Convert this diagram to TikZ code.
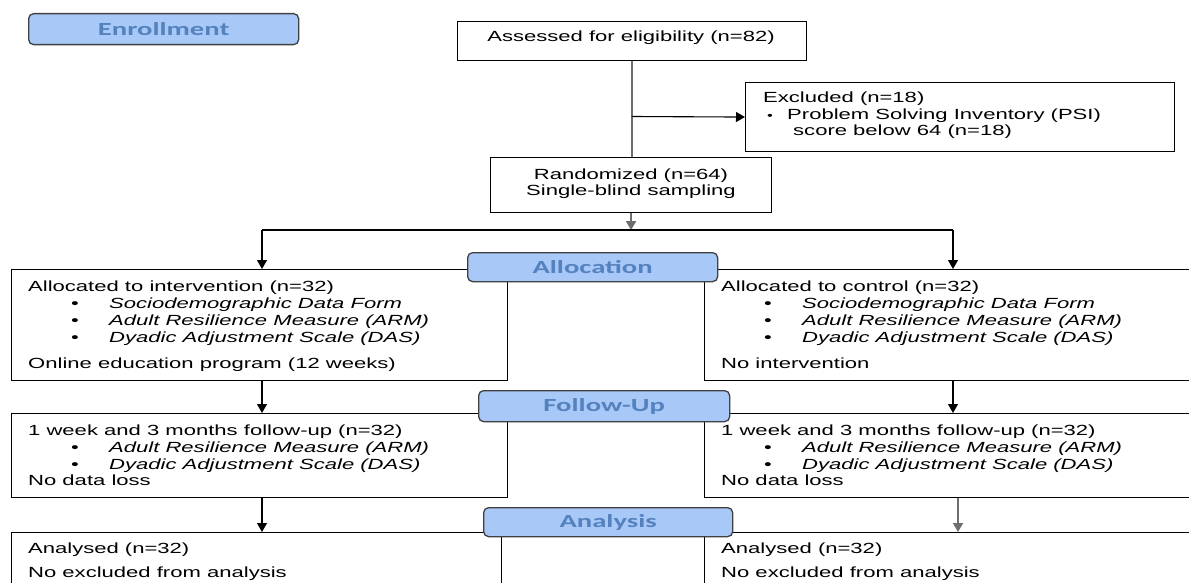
\documentclass[tikz,border=0pt]{standalone}
\usepackage{fontspec}
\setmainfont{Liberation Sans}[FakeStretch=1.5]
\newfontfamily\labfont{Carlito}[FakeStretch=1.55]
\usetikzlibrary{arrows.meta}
\definecolor{labfill}{RGB}{168,200,248}
\definecolor{labtext}{RGB}{84,130,190}
\definecolor{labborder}{RGB}{64,64,64}
\definecolor{conngray}{RGB}{110,110,110}
\begin{document}
\begin{tikzpicture}[x=1pt,y=-1pt,
  box/.style={draw=black, line width=1.1pt, rectangle, inner sep=0pt, anchor=north west, fill=white},
  lab/.style={draw=labborder, line width=1.3pt, fill=labfill, rounded corners=5pt, inner sep=0pt, anchor=north west, text=labtext, font=\labfont\bfseries\fontsize{18.5}{20}\selectfont},
  txt/.style={anchor=base west, inner sep=0pt, font=\fontsize{14.7}{17}\selectfont},
  itm/.style={anchor=base west, inner sep=0pt, font=\fontsize{14.7}{17}\selectfont\itshape},
  ctxt/.style={anchor=base, inner sep=0pt, font=\fontsize{14.7}{17}\selectfont},
  smallbul/.style={anchor=base west, inner sep=0pt, font=\fontsize{11}{12}\selectfont},
  arr/.style={-{Triangle[length=9pt,width=10pt]}, line width=1.1pt},
  gline/.style={draw=conngray, line width=2.5pt}
]
\path[use as bounding box] (0,0) rectangle (1189,583);
\clip (0,0) rectangle (1189,583);
\fill[white] (0,0) rectangle (1189,583);

% boxes
\node[box, minimum width=349pt, minimum height=39pt] (assess) at (457,21) {};
\node[box, minimum width=429pt, minimum height=69pt] (excl) at (745,82) {};
\node[box, minimum width=281pt, minimum height=55pt] (rand) at (490,157) {};
\node[box, minimum width=496pt, minimum height=111pt] (allocL) at (11,269) {};
\node[box, minimum width=600pt, minimum height=111pt] (allocR) at (704,269) {};
\node[box, minimum width=496pt, minimum height=84pt] (fuL) at (11,413) {};
\node[box, minimum width=600pt, minimum height=84pt] (fuR) at (704,413) {};
\node[box, minimum width=490pt, minimum height=100pt] (anL) at (11,532) {};
\node[box, minimum width=600pt, minimum height=100pt] (anR) at (704,532) {};

% connectors
\draw[gline] (assess.south) -- (assess.south |- rand.north);
\coordinate (br) at (631.5,116.5);
\draw[arr] (br) -- (excl.west);
\coordinate (split) at (631.5,230);
\draw[arr, draw=conngray, fill=black, line width=2pt] (rand.south) -- (rand.south |- split);
\coordinate (sL) at (262,230);
\coordinate (sR) at (953,230);
\coordinate (sR2) at (958,230);
\draw[line width=1.1pt] (sL) -- (sR);
\draw[arr] (sL) -- (sL |- allocL.north);
\draw[arr] (sR) -- (sR |- allocR.north);
\draw[arr] (allocL.south -| sL) -- (fuL.north -| sL);
\draw[arr] (allocR.south -| sR) -- (fuR.north -| sR);
\draw[arr] (fuL.south -| sL) -- (anL.north -| sL);
\draw[arr, draw=conngray, line width=1.6pt] (fuR.south -| sR2) -- (anR.north -| sR2);

% labels
\node[lab, minimum width=270pt, minimum height=31pt] (lenroll) at (28,13) {Enrollment};
\node[lab, minimum width=250pt, minimum height=29pt] (lalloc) at (467,252) {Allocation};
\node[lab, minimum width=251pt, minimum height=31pt] (lfu) at (478,390) {Follow-Up};
\node[lab, minimum width=249pt, minimum height=29pt] (lan) at (483,507) {Analysis};

% texts
\node[ctxt] (tassess) at (631,42) {Assessed for eligibility (n=82)};
\node[txt] (tex1) at (763,103) {Excluded (n=18)};
\node[smallbul] (tex2b) at (767,120) {•};
\node[txt] (tex2) at (787,120) {Problem Solving Inventory (PSI)};
\node[txt] (tex3) at (793,136) {score below 64 (n=18)};
\node[ctxt] (tr1) at (631,179) {Randomized (n=64)};
\node[ctxt] (tr2) at (631,196) {Single-blind sampling};

\node[txt] (aL0) at (28,291) {Allocated to intervention (n=32)};
\node[txt] (aL1b) at (71,308) {•};
\node[itm] (aL1) at (109,308) {Sociodemographic Data Form};
\node[txt] (aL2b) at (71,325) {•};
\node[itm] (aL2) at (109,325) {Adult Resilience Measure (ARM)};
\node[txt] (aL3b) at (71,342) {•};
\node[itm] (aL3) at (109,342) {Dyadic Adjustment Scale (DAS)};
\node[txt] (aL4) at (28,368) {Online education program (12 weeks)};

\node[txt] (aR0) at (721,291) {Allocated to control (n=32)};
\node[txt] (aR1b) at (764,308) {•};
\node[itm] (aR1) at (802,308) {Sociodemographic Data Form};
\node[txt] (aR2b) at (764,325) {•};
\node[itm] (aR2) at (802,325) {Adult Resilience Measure (ARM)};
\node[txt] (aR3b) at (764,342) {•};
\node[itm] (aR3) at (802,342) {Dyadic Adjustment Scale (DAS)};
\node[txt] (aR4) at (721,368) {No intervention};

\node[txt] (fL0) at (28,435) {1 week and 3 months follow-up (n=32)};
\node[txt] (fL1b) at (71,452) {•};
\node[itm] (fL1) at (109,452) {Adult Resilience Measure (ARM)};
\node[txt] (fL2b) at (71,469) {•};
\node[itm] (fL2) at (109,469) {Dyadic Adjustment Scale (DAS)};
\node[txt] (fL3) at (28,485) {No data loss};

\node[txt] (fR0) at (721,435) {1 week and 3 months follow-up (n=32)};
\node[txt] (fR1b) at (764,452) {•};
\node[itm] (fR1) at (802,452) {Adult Resilience Measure (ARM)};
\node[txt] (fR2b) at (764,469) {•};
\node[itm] (fR2) at (802,469) {Dyadic Adjustment Scale (DAS)};
\node[txt] (fR3) at (721,485) {No data loss};

\node[txt] (nL0) at (28,553) {Analysed (n=32)};
\node[txt] (nL1) at (28,577) {No excluded from analysis};
\node[txt] (nR0) at (721,553) {Analysed (n=32)};
\node[txt] (nR1) at (721,577) {No excluded from analysis};
\end{tikzpicture}
\end{document}
